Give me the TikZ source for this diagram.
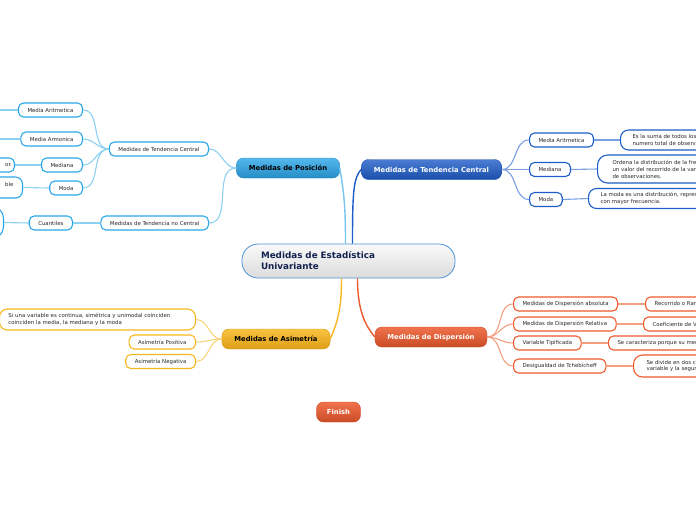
\documentclass[tikz,border=0pt]{standalone}
\usepackage{fontspec}
\setmainfont{DejaVu Sans}
\usetikzlibrary{positioning}
\definecolor{posc}{RGB}{42,166,232}
\definecolor{posl}{RGB}{140,208,242}
\definecolor{tcc}{RGB}{30,92,200}
\definecolor{tcl}{RGB}{120,160,225}
\definecolor{asic}{RGB}{246,184,30}
\definecolor{asil}{RGB}{248,212,125}
\definecolor{disc}{RGB}{238,90,46}
\definecolor{disl}{RGB}{246,160,130}
\definecolor{txtc}{RGB}{42,42,42}
\definecolor{cenc}{RGB}{74,148,216}
\definecolor{cent}{RGB}{20,34,80}
\tikzset{
  leaf/.style    = {draw, line width=1.1pt, fill=white, rounded corners=5pt, minimum height=14pt,
                    inner xsep=9pt, inner ysep=2pt, align=left, text=txtc,
                    font=\fontsize{5.4}{6.9}\selectfont},
  posleaf/.style = {leaf, draw=posc},
  tcleaf/.style  = {leaf, draw=tcc},
  asileaf/.style = {leaf, draw=asic},
  disleaf/.style = {leaf, draw=disc},
  topic/.style   = {rounded corners=7pt, minimum height=20pt, inner xsep=12.5pt, line width=0.4pt,
                    font=\fontsize{6.8}{8}\selectfont\bfseries},
  posmain/.style = {topic, top color=posc!80!white, bottom color=posc!85!black, draw=posc!85!black, text=black},
  tcmain/.style  = {topic, top color=tcc!80!white, bottom color=tcc!85!black, draw=tcc!85!black, text=white},
  asimain/.style = {topic, top color=asic!85!white, bottom color=asic!85!orange!90!black, draw=asic!85!black, text=black},
  dismain/.style = {topic, top color=disc!85!white, bottom color=disc!85!black, draw=disc!85!black, text=white},
  central/.style = {draw=cenc, line width=0.8pt, rounded corners=16pt, top color=white!96!gray,
                    bottom color=gray!28, minimum height=34pt, text width=175pt, inner xsep=19pt,
                    align=left, text=cent, font=\fontsize{8.8}{11}\selectfont\bfseries},
  link/.style    = {line width=1.1pt},
  poslink/.style = {link, draw=posl},
  tclink/.style  = {link, draw=tcl},
  asilink/.style = {link, draw=asil},
  dislink/.style = {link, draw=disl},
  trunk/.style   = {line width=1.4pt},
}
\begin{document}
\begin{tikzpicture}[x=1pt, y=-1pt]
\useasboundingbox (0,0) rectangle (696,520);
\clip (0,0) rectangle (696,520);

% ---- centre and main topics ----
\node[central] (cen) at (348.5,261) {Medidas de Estadística\\Univariante};
\node[posmain] (pos) at (288,168) {Medidas de Posición};
\node[tcmain]  (tc)  at (431.5,169.5) {Medidas de Tendencia Central};
\node[asimain] (asi) at (276,339) {Medidas de Asimetría};
\node[dismain] (dis) at (431,337) {Medidas de Dispersión};
\node[dismain, inner xsep=10.5pt] (fin) at (338.5,412) {Finish};

% ---- posicion (left, top) ----
\node[posleaf, anchor=east] (ptc)   at (209,149) {Medidas de Tendencia Central};
\node[posleaf, anchor=east] (pnc)   at (209,223) {Medidas de Tendencia no Central};
\node[posleaf, anchor=east] (pmar)  at (83,110) {Media Aritmetica};
\node[posleaf, anchor=east] (parm)  at (83,139) {Media Armonica};
\node[posleaf, anchor=east] (pmed)  at (83,165) {Mediana};
\node[posleaf, anchor=east] (pmod)  at (83,188) {Moda};
\node[posleaf, anchor=east] (pcua)  at (73,223) {Cuantiles};
\node[posleaf, anchor=east, text width=60pt, align=right, inner xsep=2.5pt] (pmedx) at (15,165) {or.};
\node[posleaf, anchor=east, text width=60pt, align=right, minimum height=21pt, rounded corners=7pt]
  (pmodx) at (23,187.5) {ble\hspace*{8pt}\\\mbox{}};
\node[posleaf, anchor=east, minimum width=60pt, minimum height=31pt, rounded corners=11pt] (pcuax) at (4,222.5) {};
\coordinate (pmarx) at (-10,110);
\coordinate (parmx) at (-10,139);

% ---- tendencia central (right, top) ----
\node[tcleaf, anchor=west] (tmar) at (529,140) {Media Aritmetica};
\node[tcleaf, anchor=west] (tmed) at (529,169.5) {Mediana};
\node[tcleaf, anchor=west] (tmod) at (529,199.5) {Moda};
\node[tcleaf, anchor=west, rounded corners=8pt, minimum height=20pt, inner xsep=12pt]
  (tmarx) at (620,140) {Es la suma de todos los\\numero total de observaciones.};
\node[tcleaf, anchor=west, rounded corners=10pt, minimum height=28pt, inner xsep=15pt]
  (tmedx) at (597,169) {Ordena la distribución de la frecuencia\\un valor del recorrido de la variable\\de observaciones.};
\node[tcleaf, anchor=west, rounded corners=8pt, minimum height=20pt, inner xsep=12pt]
  (tmodx) at (588,198.5) {La moda es una distribución, representa\\con mayor frecuencia.};

% ---- dispersion (right, bottom) ----
\node[disleaf, anchor=west] (dabs) at (513,304) {Medidas de Dispersión absoluta};
\node[disleaf, anchor=west] (drel) at (513,324) {Medidas de Dispersión Relativa};
\node[disleaf, anchor=west] (dtip) at (513,343) {Variable Tipificada};
\node[disleaf, anchor=west] (dtch) at (513,366) {Desigualdad de Tchebicheff};
\node[disleaf, anchor=west] (dabsx) at (645,304) {Recorrido o Rango};
\node[disleaf, anchor=west] (drelx) at (643,324) {Coeficiente de Variación};
\node[disleaf, anchor=west] (dtipx) at (608,343) {Se caracteriza porque su media};
\node[disleaf, anchor=west, rounded corners=9pt, minimum height=22pt, inner xsep=13pt]
  (dtchx) at (633,366) {Se divide en dos clases\\variable y la segunda};

% ---- asimetria (left, bottom) ----
\node[asileaf, anchor=east, text width=178pt, rounded corners=8pt, minimum height=21pt]
  (asim) at (196,319.5) {Si una variable es continua, simétrica y unimodal coinciden\\coinciden la media, la mediana y la moda};
\node[asileaf, anchor=east] (apos) at (196,342) {Asimetría Positiva};
\node[asileaf, anchor=east] (aneg) at (196,361.5) {Asimetría Negativa};

% ---- trunks ----
\draw[trunk, draw=posc!65!white] ([xshift=-3pt]cen.north) .. controls +(0,-40) and +(4,25) .. (pos.east);
\draw[trunk, draw=tcc] ([xshift=4pt]cen.north) .. controls +(0,-50) and +(-8,8) .. (tc.west);
\draw[trunk, draw=asic] ([xshift=-7pt]cen.south) .. controls +(0,35) and +(6,-15) .. (asi.east);
\draw[trunk, draw=disc] ([xshift=9pt]cen.south) .. controls +(0,35) and +(-8,-10) .. (dis.west);

% ---- branches ----
\foreach \n in {ptc,pnc} \draw[poslink] (pos.west) to[out=180,in=0] (\n.east);
\foreach \n in {pmar,parm,pmed,pmod} \draw[poslink] (ptc.west) to[out=180,in=0] (\n.east);
\draw[poslink] (pnc.west) -- (pcua.east);
\foreach \a/\b in {pmar/pmarx, parm/parmx, pmed/pmedx.east, pmod/pmodx.east, pcua/pcuax.east}
  \draw[poslink] (\a.west) -- (\b);

\foreach \n in {tmar,tmed,tmod} \draw[tclink] (tc.east) to[out=0,in=180] (\n.west);
\foreach \a/\b in {tmar/tmarx, tmed/tmedx, tmod/tmodx} \draw[tclink] (\a.east) -- (\b.west);

\foreach \n in {dabs,drel,dtip,dtch} \draw[dislink] (dis.east) to[out=0,in=180] (\n.west);
\foreach \a/\b in {dabs/dabsx, drel/drelx, dtip/dtipx, dtch/dtchx} \draw[dislink] (\a.east) -- (\b.west);

\foreach \n in {asim,apos,aneg} \draw[asilink] (asi.west) to[out=180,in=0] (\n.east);

\end{tikzpicture}
\end{document}
